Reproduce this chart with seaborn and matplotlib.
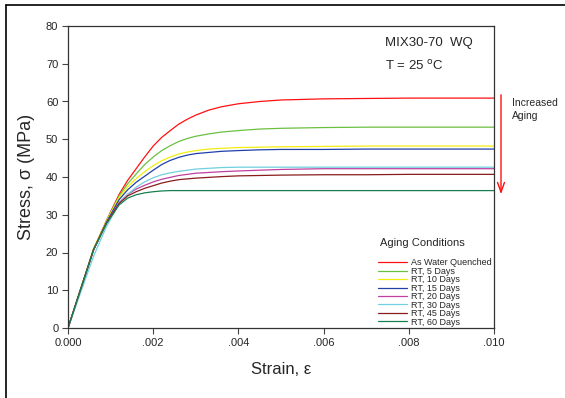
import numpy as np
import pandas as pd
import matplotlib
matplotlib.use("Agg")
import matplotlib.pyplot as plt
import seaborn as sns
from matplotlib.lines import Line2D

strain = [0.0, 0.0003, 0.0006, 0.0009, 0.0012, 0.0014, 0.0016, 0.0018, 0.0020,
          0.0022, 0.0024, 0.0026, 0.0028, 0.0030, 0.0033, 0.0036, 0.0040, 0.0045,
          0.0050, 0.0060, 0.0070, 0.0080, 0.0100]

as_wq = [0, 10.4, 20.8, 28.4, 35.4, 39.1, 42.2, 45.3, 48.2, 50.5, 52.3, 54.0, 55.3,
         56.4, 57.7, 58.6, 59.4, 60.0, 60.4, 60.7, 60.8, 60.9, 60.9]
rt_5 = [0, 10.4, 20.9, 28.3, 35.0, 38.2, 40.8, 43.3, 45.3, 47.0, 48.3, 49.4, 50.2,
        50.8, 51.4, 51.9, 52.3, 52.7, 52.9, 53.1, 53.2, 53.2, 53.2]
rt_10 = [0, 10.5, 21.0, 28.3, 34.6, 37.4, 39.6, 41.4, 43.0, 44.3, 45.3, 46.1, 46.6,
         47.0, 47.4, 47.6, 47.8, 47.9, 48.0, 48.1, 48.2, 48.2, 48.2]
rt_15 = [0, 10.3, 20.7, 28.0, 34.0, 36.6, 38.6, 40.2, 41.8, 43.3, 44.4, 45.2, 45.8,
         46.2, 46.5, 46.8, 47.0, 47.2, 47.3, 47.3, 47.4, 47.4, 47.4]
rt_20 = [0, 10.3, 20.6, 27.8, 33.2, 35.4, 36.8, 37.8, 38.7, 39.4, 39.9, 40.4, 40.7,
         41.0, 41.2, 41.4, 41.6, 41.8, 42.0, 42.2, 42.2, 42.2, 42.2]
rt_30 = [0, 9.5, 19.0, 26.8, 33.0, 35.4, 37.3, 38.7, 39.8, 40.6, 41.1, 41.5, 41.8,
         42.1, 42.3, 42.5, 42.6, 42.6, 42.6, 42.6, 42.6, 42.6, 42.6]
rt_45 = [0, 10.4, 20.8, 27.7, 33.0, 35.0, 36.1, 37.0, 37.7, 38.4, 38.9, 39.3, 39.5,
         39.7, 39.9, 40.1, 40.3, 40.4, 40.5, 40.6, 40.6, 40.7, 40.7]
rt_60 = [0, 10.3, 20.7, 27.6, 32.6, 34.4, 35.3, 35.8, 36.1, 36.3, 36.4, 36.4, 36.4,
         36.4, 36.4, 36.4, 36.4, 36.4, 36.4, 36.4, 36.4, 36.4, 36.4]

labels = ["As Water Quenched", "RT, 5 Days", "RT, 10 Days", "RT, 15 Days",
          "RT, 20 Days", "RT, 30 Days", "RT, 45 Days", "RT, 60 Days"]
series = [as_wq, rt_5, rt_10, rt_15, rt_20, rt_30, rt_45, rt_60]
colors = ["#ff1010", "#6cc040", "#f2ee10", "#2040a8", "#c040a0", "#70d0e0", "#8a1c1c", "#188050"]

x_ticks = [0.0, 0.002, 0.004, 0.006, 0.008, 0.010]
x_ticklabels = ["0.000", ".002", ".004", ".006", ".008", ".010"]
y_ticks = [0, 10, 20, 30, 40, 50, 60, 70, 80]

df = pd.concat([pd.DataFrame({"strain": strain, "stress": s, "cond": l})
                for s, l in zip(series, labels)], ignore_index=True)

sns.set_style("ticks")
plt.rcParams["font.family"] = ["Liberation Sans", "DejaVu Sans"]

fig = plt.figure(figsize=(5.65, 3.98), dpi=100)
ax = fig.add_axes([68/565, 1-328/398, (494-68)/565, (328-26)/398])

sns.lineplot(data=df, x="strain", y="stress", hue="cond", hue_order=labels,
             palette=colors, ax=ax, linewidth=0.9, legend=False, sort=False)

ax.set_xlim(0, 0.010)
ax.set_ylim(0, 80)
ax.set_xticks(x_ticks)
ax.set_xticklabels(x_ticklabels)
ax.set_yticks(y_ticks)
ax.tick_params(axis="both", labelsize=8, length=4, width=0.8, color="#444444", pad=3)
for sp in ax.spines.values():
    sp.set_visible(True)
    sp.set_linewidth(0.9)
    sp.set_color("#333333")

ax.set_xlabel("Strain, ε", fontsize=12, labelpad=10)
ax.set_ylabel("Stress, σ (MPa)", fontsize=13, labelpad=8)

ax.text(0.744, 0.945, "MIX30-70  WQ", transform=ax.transAxes, fontsize=9.5, va="center")
ax.text(0.744, 0.868, "T = 25 $^{\\mathrm{o}}$C", transform=ax.transAxes, fontsize=9.5, va="center")

# arrow outside axes
fig.add_artist(matplotlib.patches.FancyArrowPatch(
    (501/565, 1-92/398), (501/565, 1-197/398), transform=fig.transFigure,
    arrowstyle="->,head_length=7,head_width=2.5", color="#ff1010", lw=1.0, mutation_scale=1))
fig.text(512/565, 1-103/398, "Increased", fontsize=7.5, va="center")
fig.text(512/565, 1-116/398, "Aging", fontsize=7.5, va="center")

# legend
fig.text(380/565, 1-243/398, "Aging Conditions", fontsize=8, va="center")
handles = [Line2D([0], [0], color=c, lw=0.9) for c in colors]
leg = ax.legend(handles, labels, loc="lower right",
                bbox_to_anchor=(1.01, -0.016), frameon=False, fontsize=6.5,
                handlelength=3.2, handletextpad=0.5,
                labelspacing=-0.06, borderpad=0.2)

# outer frame lines (left and top)
fig.add_artist(Line2D([6/565, 6/565], [0, 1-5/398], transform=fig.transFigure, color="black", lw=1.2))
fig.add_artist(Line2D([6/565, 1], [1-5/398, 1-5/398], transform=fig.transFigure, color="black", lw=1.2))

fig.savefig("out.png", dpi=100)
